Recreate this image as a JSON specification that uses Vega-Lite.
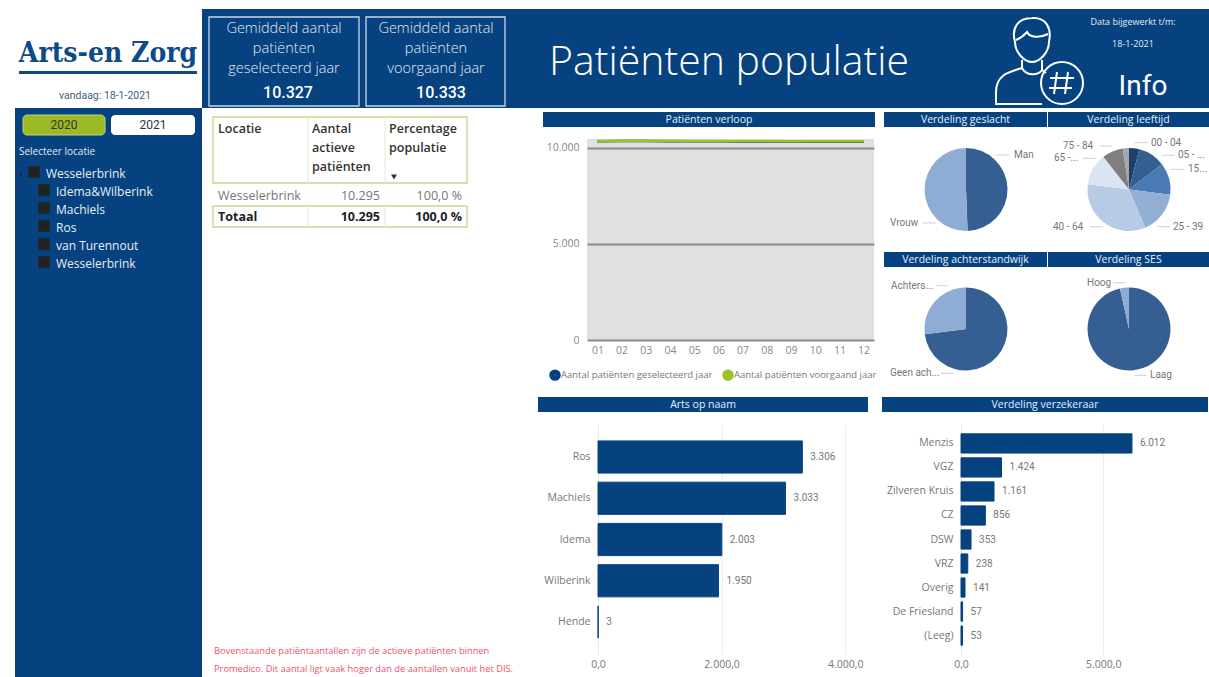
{"$schema":"https://vega.github.io/schema/vega-lite/v6.json","padding":{"left":15,"top":9,"right":0,"bottom":0},"background":"#ffffff","config":{"view":{"stroke":null},"concat":{"spacing":0},"font":"Open Sans","locale":{"number":{"decimal":",","thousands":".","grouping":[3],"currency":["€",""]}}},"spacing":0,"resolve":{"scale":{"color":"independent"}},"vconcat":[
{"spacing":0,"hconcat":[
{"width":187,"height":99,"resolve":{"scale":{"x":"independent","y":"independent"}},"layer":[
{"data":{"values":[{"t":"Arts-en Zorg"}]},"mark":{"type":"text","font":"DejaVu Serif Condensed","fontWeight":"bold","fontSize":28,"color":"#0d4a8a","align":"center"},"encoding":{"x":{"field":"t","type":"nominal","axis":null,"scale":{"range":[93,93],"padding":0}},"y":{"field":"t","type":"nominal","axis":null,"scale":{"range":[45,45],"padding":0}},"text":{"field":"t"}}},
{"data":{"values":[{"a":0,"b":1,"c":0,"d":1}]},"mark":{"type":"rect","fill":"#0d4a8a"},"encoding":{"x":{"field":"a","type":"quantitative","axis":null,"scale":{"domain":[0,1],"range":[4,182]}},"x2":{"field":"b"},"y":{"field":"c","type":"quantitative","axis":null,"scale":{"domain":[0,1],"range":[62,65]}},"y2":{"field":"d"}}},
{"data":{"values":[{"t":"vandaag: 18-1-2021"}]},"mark":{"type":"text","font":"Roboto","fontSize":10.5,"color":"#44607f"},"encoding":{"x":{"field":"t","type":"nominal","axis":null,"scale":{"range":[90,90],"padding":0}},"y":{"field":"t","type":"nominal","axis":null,"scale":{"range":[87,87],"padding":0}},"text":{"field":"t"}}}
]},
{"width":1007,"height":99,"view":{"fill":"#06427f","stroke":null},"resolve":{"scale":{"x":"independent","y":"independent"}},"layer":[
{"data":{"values":[{"a":0,"b":1,"c":0,"d":1}]},"mark":{"type":"rect","fill":null,"stroke":"#c9d6e6","strokeWidth":1.3},"encoding":{"x":{"field":"a","type":"quantitative","axis":null,"scale":{"domain":[0,1],"range":[7,157]}},"x2":{"field":"b"},"y":{"field":"c","type":"quantitative","axis":null,"scale":{"domain":[0,1],"range":[8,97]}},"y2":{"field":"d"}}},
{"data":{"values":[{"a":0,"b":1,"c":0,"d":1}]},"mark":{"type":"rect","fill":null,"stroke":"#c9d6e6","strokeWidth":1.3},"encoding":{"x":{"field":"a","type":"quantitative","axis":null,"scale":{"domain":[0,1],"range":[164,303]}},"x2":{"field":"b"},"y":{"field":"c","type":"quantitative","axis":null,"scale":{"domain":[0,1],"range":[8,97]}},"y2":{"field":"d"}}},
{"data":{"values":[{"c":"A","r":1,"t":"Gemiddeld aantal"},{"c":"A","r":2,"t":"patiënten"},{"c":"A","r":3,"t":"geselecteerd jaar"},{"c":"B","r":1,"t":"Gemiddeld aantal"},{"c":"B","r":2,"t":"patiënten"},{"c":"B","r":3,"t":"voorgaand jaar"}]},"mark":{"type":"text","fontSize":14.5,"fontWeight":300,"color":"#e4ebf3"},"encoding":{"x":{"field":"c","type":"nominal","axis":null,"scale":{"range":[82,234],"padding":0}},"y":{"field":"r","type":"ordinal","axis":null,"scale":{"range":[20,60],"padding":0}},"text":{"field":"t"}}},
{"data":{"values":[{"c":"A","t":"10.327"},{"c":"B","t":"10.333"}]},"mark":{"type":"text","font":"Roboto","fontSize":16,"fontWeight":500,"color":"#ffffff"},"encoding":{"x":{"field":"c","type":"nominal","axis":null,"scale":{"range":[86,239],"padding":0}},"y":{"field":"c","type":"nominal","axis":null,"scale":{"range":[84,84],"padding":0}},"text":{"field":"t"}}},
{"data":{"values":[{"t":"Patiënten populatie"}]},"mark":{"type":"text","align":"left","fontSize":41,"fontWeight":300,"color":"#ffffff"},"encoding":{"x":{"field":"t","type":"nominal","axis":null,"scale":{"range":[347,347],"padding":0}},"y":{"field":"t","type":"nominal","axis":null,"scale":{"range":[54,54],"padding":0}},"text":{"field":"t"}}},
{"data":{"values":[{"t":"icon"}]},"mark":{"type":"point","shape":"M-.545,-.432 C-.636,-.75 -.477,-.977 -.159,-.977 C.159,-1 .295,-.75 .227,-.432 C.227,-.205 .023,.023 -.159,.023 C-.341,.023 -.545,-.205 -.545,-.432 Z M-.523,-.477 C-.386,-.523 -.318,-.614 -.273,-.659 C-.205,-.523 .023,-.523 .205,-.614 M-.386,-.023 L-.386,.159 C-.659,.25 -.977,.295 -.977,.705 L-.977,.977 L.068,.977 M.068,-.023 L.068,.205 L.159,.273 M-.386,.159 C-.295,.341 -.023,.341 .068,.205 M1,.5 A.477,.477 0 1 1 .046,.5 A.477,.477 0 1 1 1,.5 Z M.409,.25 L.341,.75 M.659,.25 L.591,.75 M.25,.386 L.795,.386 M.227,.614 L.75,.614","size":7744,"filled":false,"stroke":"#ffffff","strokeWidth":2,"opacity":1},"encoding":{"x":{"field":"t","type":"nominal","axis":null,"scale":{"range":[837,837],"padding":0}},"y":{"field":"t","type":"nominal","axis":null,"scale":{"range":[52,52],"padding":0}}}},
{"data":{"values":[{"r":1,"t":"Data bijgewerkt t/m:"},{"r":2,"t":"18-1-2021"}]},"mark":{"type":"text","fontSize":9,"color":"#e4ebf3"},"encoding":{"x":{"datum":"a","type":"nominal","axis":null,"scale":{"range":[931,931],"padding":0}},"y":{"field":"r","type":"ordinal","axis":null,"scale":{"range":[13,35],"padding":0}},"text":{"field":"t"}}},
{"data":{"values":[{"t":"Info"}]},"mark":{"type":"text","font":"Roboto","fontSize":28,"fontWeight":400,"color":"#ffffff"},"encoding":{"x":{"field":"t","type":"nominal","axis":null,"scale":{"range":[941,941],"padding":0}},"y":{"field":"t","type":"nominal","axis":null,"scale":{"range":[78,78],"padding":0}},"text":{"field":"t"}}}
]}
]},
{"spacing":0,"resolve":{"scale":{"color":"independent"}},"hconcat":[
{"width":187,"height":569,"view":{"fill":"#06427f","stroke":null},"resolve":{"scale":{"x":"independent","y":"independent"}},"layer":[
{"data":{"values":[{"a":0,"b":1,"c":0,"d":1}]},"mark":{"type":"rect","cornerRadius":4,"fill":"#9bbb24","stroke":"#c3d18a"},"encoding":{"x":{"field":"a","type":"quantitative","axis":null,"scale":{"domain":[0,1],"range":[8,90]}},"x2":{"field":"b"},"y":{"field":"c","type":"quantitative","axis":null,"scale":{"domain":[0,1],"range":[7,27]}},"y2":{"field":"d"}}},
{"data":{"values":[{"a":0,"b":1,"c":0,"d":1}]},"mark":{"type":"rect","cornerRadius":4,"fill":"#ffffff"},"encoding":{"x":{"field":"a","type":"quantitative","axis":null,"scale":{"domain":[0,1],"range":[96,180]}},"x2":{"field":"b"},"y":{"field":"c","type":"quantitative","axis":null,"scale":{"domain":[0,1],"range":[7,27]}},"y2":{"field":"d"}}},
{"data":{"values":[{"t":"2020"},{"t":"2021"}]},"mark":{"type":"text","font":"Roboto","fontSize":12,"color":"#333333"},"encoding":{"x":{"field":"t","type":"nominal","axis":null,"scale":{"range":[49,138],"padding":0}},"y":{"datum":"a","type":"nominal","axis":null,"scale":{"range":[17,17],"padding":0}},"text":{"field":"t"}}},
{"data":{"values":[{"t":"Selecteer locatie"}]},"mark":{"type":"text","align":"left","fontSize":10,"color":"#e4ebf3"},"encoding":{"x":{"field":"t","type":"nominal","axis":null,"scale":{"range":[4,4],"padding":0}},"y":{"field":"t","type":"nominal","axis":null,"scale":{"range":[44,44],"padding":0}},"text":{"field":"t"}}},
{"data":{"values":[{"t":"▲"}]},"mark":{"type":"point","shape":"triangle-down","filled":true,"size":10,"color":"#223","opacity":1},"encoding":{"x":{"field":"t","type":"nominal","axis":null,"scale":{"range":[6,6],"padding":0}},"y":{"field":"t","type":"nominal","axis":null,"scale":{"range":[67,67],"padding":0}}}},
{"data":{"values":[{"i":"Wesselerbrink top","l":"0"},{"i":"Idema&Wilberink","l":"1"},{"i":"Machiels","l":"1"},{"i":"Ros","l":"1"},{"i":"van Turennout","l":"1"},{"i":"Wesselerbrink","l":"1"}]},"mark":{"type":"square","size":130,"color":"#222222","opacity":1},"encoding":{"x":{"field":"l","type":"nominal","axis":null,"scale":{"range":[19,29],"padding":0}},"y":{"field":"i","type":"nominal","sort":null,"axis":null,"scale":{"range":[64,154],"padding":0}}}},
{"data":{"values":[{"i":"Wesselerbrink top","l":"0","t":"Wesselerbrink"},{"i":"Idema&Wilberink","l":"1","t":"Idema&Wilberink"},{"i":"Machiels","l":"1","t":"Machiels"},{"i":"Ros","l":"1","t":"Ros"},{"i":"van Turennout","l":"1","t":"van Turennout"},{"i":"Wesselerbrink","l":"1","t":"Wesselerbrink"}]},"mark":{"type":"text","align":"left","fontSize":12,"color":"#e8eef5"},"encoding":{"x":{"field":"l","type":"nominal","axis":null,"scale":{"range":[31,41],"padding":0}},"y":{"field":"i","type":"nominal","sort":null,"axis":null,"scale":{"range":[66,156],"padding":0}},"text":{"field":"t"}}}
]},
{"width":336,"height":569,"resolve":{"scale":{"x":"independent","y":"independent"}},"layer":[
{"data":{"values":[{"a":0,"b":1,"c":0,"d":1}]},"mark":{"type":"rect","fill":null,"stroke":"#c8d88f","strokeWidth":1.4},"encoding":{"x":{"field":"a","type":"quantitative","axis":null,"scale":{"domain":[0,1],"range":[11,265]}},"x2":{"field":"b"},"y":{"field":"c","type":"quantitative","axis":null,"scale":{"domain":[0,1],"range":[9,75]}},"y2":{"field":"d"}}},
{"data":{"values":[{"a":0,"b":1,"c":0,"d":1}]},"mark":{"type":"rect","fill":null,"stroke":"#c8d88f","strokeWidth":1.4},"encoding":{"x":{"field":"a","type":"quantitative","axis":null,"scale":{"domain":[0,1],"range":[11,265]}},"x2":{"field":"b"},"y":{"field":"c","type":"quantitative","axis":null,"scale":{"domain":[0,1],"range":[98,119]}},"y2":{"field":"d"}}},
{"data":{"values":[{"c":"Aantal","a":0,"b":1},{"c":"Percentage","a":0,"b":1}]},"mark":{"type":"rule","color":"#e6eccd"},"encoding":{"x":{"field":"c","type":"nominal","axis":null,"scale":{"type":"point","range":[106,183],"padding":0}},"y":{"field":"a","type":"quantitative","axis":null,"scale":{"domain":[0,1],"range":[9,75]}},"y2":{"field":"b"}}},
{"data":{"values":[{"c":"Aantal","a":0,"b":1},{"c":"Percentage","a":0,"b":1}]},"mark":{"type":"rule","color":"#e6eccd"},"encoding":{"x":{"field":"c","type":"nominal","axis":null,"scale":{"type":"point","range":[106,183],"padding":0}},"y":{"field":"a","type":"quantitative","axis":null,"scale":{"domain":[0,1],"range":[98,119]}},"y2":{"field":"b"}}},
{"data":{"values":[{"t":"Locatie"}]},"mark":{"type":"text","align":"left","fontSize":12.5,"fontWeight":600,"color":"#333333"},"encoding":{"x":{"field":"t","type":"nominal","axis":null,"scale":{"range":[16,16],"padding":0}},"y":{"field":"t","type":"nominal","axis":null,"scale":{"range":[21,21],"padding":0}},"text":{"field":"t"}}},
{"data":{"values":[{"c":"A","r":1,"t":"Aantal"},{"c":"A","r":2,"t":"actieve"},{"c":"A","r":3,"t":"patiënten"},{"c":"P","r":1,"t":"Percentage"},{"c":"P","r":2,"t":"populatie"}]},"mark":{"type":"text","align":"left","fontSize":12.5,"fontWeight":600,"color":"#333333"},"encoding":{"x":{"field":"c","type":"nominal","axis":null,"scale":{"range":[110,187],"padding":0}},"y":{"field":"r","type":"ordinal","axis":null,"scale":{"domain":[1,2,3],"range":[21,59],"padding":0}},"text":{"field":"t"}}},
{"data":{"values":[{"t":"sort"}]},"mark":{"type":"point","shape":"triangle-down","filled":true,"size":35,"color":"#333333","opacity":1},"encoding":{"x":{"field":"t","type":"nominal","axis":null,"scale":{"range":[192,192],"padding":0}},"y":{"field":"t","type":"nominal","axis":null,"scale":{"range":[69,69],"padding":0}}}},
{"data":{"values":[{"t":"Wesselerbrink"}]},"mark":{"type":"text","align":"left","fontSize":12.5,"color":"#777777"},"encoding":{"x":{"field":"t","type":"nominal","axis":null,"scale":{"range":[16,16],"padding":0}},"y":{"field":"t","type":"nominal","axis":null,"scale":{"range":[88,88],"padding":0}},"text":{"field":"t"}}},
{"data":{"values":[{"c":"n","t":"10.295"},{"c":"p","t":"100,0 %"}]},"mark":{"type":"text","align":"right","fontSize":12.5,"color":"#777777"},"encoding":{"x":{"field":"c","type":"nominal","axis":null,"scale":{"range":[178,260],"padding":0}},"y":{"field":"c","type":"nominal","axis":null,"scale":{"range":[88,88],"padding":0}},"text":{"field":"t"}}},
{"data":{"values":[{"t":"Totaal"}]},"mark":{"type":"text","align":"left","fontSize":12.5,"fontWeight":700,"color":"#222222"},"encoding":{"x":{"field":"t","type":"nominal","axis":null,"scale":{"range":[16,16],"padding":0}},"y":{"field":"t","type":"nominal","axis":null,"scale":{"range":[109,109],"padding":0}},"text":{"field":"t"}}},
{"data":{"values":[{"c":"n","t":"10.295"},{"c":"p","t":"100,0 %"}]},"mark":{"type":"text","align":"right","fontSize":12.5,"fontWeight":700,"color":"#222222"},"encoding":{"x":{"field":"c","type":"nominal","axis":null,"scale":{"range":[178,260],"padding":0}},"y":{"field":"c","type":"nominal","axis":null,"scale":{"range":[109,109],"padding":0}},"text":{"field":"t"}}},
{"data":{"values":[{"t":"Bovenstaande patiëntaantallen zijn de actieve patiënten binnen"},{"t":"Promedico. Dit aantal ligt vaak hoger dan de aantallen vanuit het DIS."}]},"mark":{"type":"text","align":"left","fontSize":9.3,"color":"#f0506e"},"encoding":{"x":{"datum":"a","type":"nominal","axis":null,"scale":{"range":[12,12],"padding":0}},"y":{"field":"t","type":"nominal","sort":null,"axis":null,"scale":{"range":[543,561],"padding":0}},"text":{"field":"t"}}}
]},
{"spacing":0,"resolve":{"scale":{"color":"independent"}},"vconcat":[
{"spacing":0,"resolve":{"scale":{"color":"independent"}},"hconcat":[
{"width":5,"height":1,"data":{"values":[{"t":""}]},"mark":{"type":"text","fontSize":0},"encoding":{"text":{"field":"t"}}},
{"spacing":0,"resolve":{"scale":{"color":"independent"}},"vconcat":[
{"width":332,"height":4,"data":{"values":[{"t":""}]},"mark":{"type":"text","fontSize":0},"encoding":{"text":{"field":"t"}}},
{"width":332,"height":15,"view":{"fill":"#06427f","stroke":null},"data":{"values":[{"t":"Patiënten verloop"}]},"mark":{"type":"text","fontSize":10.5,"color":"#e8eef6"},"encoding":{"text":{"field":"t"}}},
{"width":332,"height":8,"data":{"values":[{"t":""}]},"mark":{"type":"text","fontSize":0},"encoding":{"text":{"field":"t"}}},
{"spacing":0,"resolve":{"scale":{"color":"independent"}},"hconcat":[
{"width":3,"height":1,"data":{"values":[{"t":""}]},"mark":{"type":"text","fontSize":0},"encoding":{"text":{"field":"t"}}},
{"width":287,"height":201,"view":{"fill":"#e0e0e0","stroke":null},"data":{"values":[
{"m":"01","s":"Aantal patiënten geselecteerd jaar","v":10330},{"m":"02","s":"Aantal patiënten geselecteerd jaar","v":10345},{"m":"03","s":"Aantal patiënten geselecteerd jaar","v":10340},{"m":"04","s":"Aantal patiënten geselecteerd jaar","v":10335},{"m":"05","s":"Aantal patiënten geselecteerd jaar","v":10330},{"m":"06","s":"Aantal patiënten geselecteerd jaar","v":10330},{"m":"07","s":"Aantal patiënten geselecteerd jaar","v":10325},{"m":"08","s":"Aantal patiënten geselecteerd jaar","v":10320},{"m":"09","s":"Aantal patiënten geselecteerd jaar","v":10315},{"m":"10","s":"Aantal patiënten geselecteerd jaar","v":10310},{"m":"11","s":"Aantal patiënten geselecteerd jaar","v":10310},{"m":"12","s":"Aantal patiënten geselecteerd jaar","v":10305},
{"m":"01","s":"Aantal patiënten voorgaand jaar","v":10345},{"m":"02","s":"Aantal patiënten voorgaand jaar","v":10365},{"m":"03","s":"Aantal patiënten voorgaand jaar","v":10360},{"m":"04","s":"Aantal patiënten voorgaand jaar","v":10355},{"m":"05","s":"Aantal patiënten voorgaand jaar","v":10350},{"m":"06","s":"Aantal patiënten voorgaand jaar","v":10345},{"m":"07","s":"Aantal patiënten voorgaand jaar","v":10345},{"m":"08","s":"Aantal patiënten voorgaand jaar","v":10340},{"m":"09","s":"Aantal patiënten voorgaand jaar","v":10335},{"m":"10","s":"Aantal patiënten voorgaand jaar","v":10330},{"m":"11","s":"Aantal patiënten voorgaand jaar","v":10330},{"m":"12","s":"Aantal patiënten voorgaand jaar","v":10335}]},"mark":{"type":"line","strokeWidth":2.5},"encoding":{"x":{"field":"m","type":"ordinal","title":null,"scale":{"type":"point","padding":0.43},"axis":{"labelAngle":0,"domain":false,"ticks":false,"grid":false,"labelColor":"#888888","labelFontSize":10.5,"labelPadding":5}},"y":{"field":"v","type":"quantitative","title":null,"scale":{"domain":[0,10450],"nice":false},"axis":{"values":[0,5000,10000],"format":",d","domain":false,"ticks":false,"grid":true,"gridColor":"#8a8a8a","gridWidth":2,"gridOpacity":1,"labelColor":"#888888","labelFontSize":10.5,"labelPadding":8}},"color":{"field":"s","type":"nominal","scale":{"range":["#06427f","#9bc125"]},"legend":{"orient":"none","legendX":-38,"legendY":230,"direction":"horizontal","title":null,"symbolType":"circle","symbolSize":30,"symbolStrokeWidth":6,"symbolOpacity":1,"labelFontSize":9.5,"labelColor":"#777777","labelLimit":300,"columnPadding":0,"labelOffset":0,"padding":0}}}}
]}
]},
{"width":7,"height":1,"data":{"values":[{"t":""}]},"mark":{"type":"text","fontSize":0},"encoding":{"text":{"field":"t"}}},
{"spacing":0,"resolve":{"scale":{"color":"independent"}},"vconcat":[
{"width":325,"height":4,"data":{"values":[{"t":""}]},"mark":{"type":"text","fontSize":0},"encoding":{"text":{"field":"t"}}},
{"spacing":0,"hconcat":[
{"width":163,"height":15,"view":{"fill":"#06427f","stroke":null},"data":{"values":[{"t":"Verdeling geslacht"}]},"mark":{"type":"text","fontSize":10.5,"color":"#e8eef6"},"encoding":{"text":{"field":"t"}}},
{"width":1,"height":15,"data":{"values":[{"t":""}]},"mark":{"type":"text","fontSize":0},"encoding":{"text":{"field":"t"}}},
{"width":161,"height":15,"view":{"fill":"#06427f","stroke":null},"data":{"values":[{"t":"Verdeling leeftijd"}]},"mark":{"type":"text","fontSize":10.5,"color":"#e8eef6"},"encoding":{"text":{"field":"t"}}}
]},
{"spacing":0,"resolve":{"scale":{"color":"independent"}},"hconcat":[
{"width":164,"height":125,"resolve":{"scale":{"x":"independent","y":"independent"}},"layer":[
{"data":{"values":[{"k":"Man","o":1,"p":49.4},{"k":"Vrouw","o":2,"p":50.6}]},"mark":{"type":"arc","outerRadius":41.5},"encoding":{"theta":{"field":"p","type":"quantitative","stack":true},"order":{"field":"o"},"color":{"field":"k","type":"nominal","legend":null,"scale":{"domain":["Man","Vrouw"],"range":["#355f92","#8fadd4"]}}}},
{"data":{"values":[{"t":"Man"},{"t":"Vrouw"}]},"mark":{"type":"text","align":"left","font":"Roboto","fontSize":10,"color":"#777777"},"encoding":{"x":{"field":"t","type":"nominal","axis":null,"scale":{"domain":["Man","Vrouw"],"range":[130,6],"padding":0}},"y":{"field":"t","type":"nominal","axis":null,"scale":{"domain":["Man","Vrouw"],"range":[28,96],"padding":0}},"text":{"field":"t"}}},
{"data":{"values":[{"t":"Man"},{"t":"Vrouw"}]},"mark":{"type":"tick","orient":"horizontal","size":13,"thickness":1,"color":"#bbbbbb"},"encoding":{"x":{"field":"t","type":"nominal","axis":null,"scale":{"type":"point","domain":["Man","Vrouw"],"range":[118.5,45],"padding":0}},"y":{"field":"t","type":"nominal","axis":null,"scale":{"type":"point","domain":["Man","Vrouw"],"range":[28,96],"padding":0}}}}
]},
{"width":1,"height":125,"data":{"values":[{"t":""}]},"mark":{"type":"text","fontSize":0},"encoding":{"text":{"field":"t"}}},
{"width":160,"height":125,"resolve":{"scale":{"x":"independent","y":"independent"}},"layer":[
{"data":{"values":[{"k":"00 - 04","p":4},{"k":"05 - 14","p":10.7},{"k":"15 - 24","p":12.3},{"k":"25 - 39","p":16.6},{"k":"40 - 64","p":33.4},{"k":"65 - 74","p":12.4},{"k":"75 - 84","p":8.2},{"k":"85+","p":2.4}]},"mark":{"type":"arc","outerRadius":41.5},"encoding":{"theta":{"field":"p","type":"quantitative","stack":true},"order":{"field":"k"},"color":{"field":"k","type":"nominal","legend":null,"scale":{"range":["#1f3f6a","#355f92","#4a7ab5","#93afd6","#b7cbe4","#dbe5f1","#7f7f7f","#a6a6a6"]}}}},
{"data":{"values":[{"t":"00 - 04"},{"t":"75 - 84"}]},"mark":{"type":"text","align":"left","font":"Roboto","fontSize":10,"color":"#777777"},"encoding":{"x":{"field":"t","type":"nominal","axis":null,"scale":{"domain":["00 - 04","75 - 84"],"range":[102,14],"padding":0}},"y":{"field":"t","type":"nominal","axis":null,"scale":{"domain":["00 - 04","75 - 84"],"range":[15.7,19],"padding":0}},"text":{"field":"t"}}},
{"data":{"values":[{"t":"00 - 04"},{"t":"75 - 84"}]},"mark":{"type":"tick","orient":"horizontal","size":13,"thickness":1,"color":"#bbbbbb"},"encoding":{"x":{"field":"t","type":"nominal","axis":null,"scale":{"type":"point","domain":["00 - 04","75 - 84"],"range":[92,57],"padding":0}},"y":{"field":"t","type":"nominal","axis":null,"scale":{"type":"point","domain":["00 - 04","75 - 84"],"range":[15.7,19],"padding":0}}}},
{"data":{"values":[{"t":"05 - ..."},{"t":"65 -..."}]},"mark":{"type":"text","align":"left","font":"Roboto","fontSize":10,"color":"#777777"},"encoding":{"x":{"field":"t","type":"nominal","axis":null,"scale":{"domain":["05 - ...","65 -..."],"range":[129,5],"padding":0}},"y":{"field":"t","type":"nominal","axis":null,"scale":{"domain":["05 - ...","65 -..."],"range":[28.3,31.3],"padding":0}},"text":{"field":"t"}}},
{"data":{"values":[{"t":"05 - ..."},{"t":"65 -..."}]},"mark":{"type":"tick","orient":"horizontal","size":13,"thickness":1,"color":"#bbbbbb"},"encoding":{"x":{"field":"t","type":"nominal","axis":null,"scale":{"type":"point","domain":["05 - ...","65 -..."],"range":[119.5,40.5],"padding":0}},"y":{"field":"t","type":"nominal","axis":null,"scale":{"type":"point","domain":["05 - ...","65 -..."],"range":[28.3,31.3],"padding":0}}}},
{"data":{"values":[{"t":"15..."}]},"mark":{"type":"text","align":"left","font":"Roboto","fontSize":10,"color":"#777777"},"encoding":{"x":{"field":"t","type":"nominal","axis":null,"scale":{"range":[139,139],"padding":0}},"y":{"field":"t","type":"nominal","axis":null,"scale":{"range":[42.3,42.3],"padding":0}},"text":{"field":"t"}}},
{"data":{"values":[{"t":"15..."}]},"mark":{"type":"tick","orient":"horizontal","size":14,"thickness":1,"color":"#bbbbbb"},"encoding":{"x":{"field":"t","type":"nominal","axis":null,"scale":{"type":"point","range":[128.5,128.5],"padding":0}},"y":{"field":"t","type":"nominal","axis":null,"scale":{"type":"point","range":[42.3,42.3],"padding":0}}}},
{"data":{"values":[{"t":"25 - 39"},{"t":"40 - 64"}]},"mark":{"type":"text","align":"left","font":"Roboto","fontSize":10,"color":"#777777"},"encoding":{"x":{"field":"t","type":"nominal","axis":null,"scale":{"domain":["25 - 39","40 - 64"],"range":[124,4],"padding":0}},"y":{"datum":"a","type":"nominal","axis":null,"scale":{"range":[99.7,99.7],"padding":0}},"text":{"field":"t"}}},
{"data":{"values":[{"t":"25 - 39"},{"t":"40 - 64"}]},"mark":{"type":"tick","orient":"horizontal","size":13,"thickness":1,"color":"#bbbbbb"},"encoding":{"x":{"field":"t","type":"nominal","axis":null,"scale":{"type":"point","domain":["25 - 39","40 - 64"],"range":[114.5,47.5],"padding":0}},"y":{"datum":"a","type":"nominal","axis":null,"scale":{"type":"point","range":[99.7,99.7],"padding":0}}}}
]}
]},
{"spacing":0,"hconcat":[
{"width":163,"height":15,"view":{"fill":"#06427f","stroke":null},"data":{"values":[{"t":"Verdeling achterstandwijk"}]},"mark":{"type":"text","fontSize":10.5,"color":"#e8eef6"},"encoding":{"text":{"field":"t"}}},
{"width":1,"height":15,"data":{"values":[{"t":""}]},"mark":{"type":"text","fontSize":0},"encoding":{"text":{"field":"t"}}},
{"width":161,"height":15,"view":{"fill":"#06427f","stroke":null},"data":{"values":[{"t":"Verdeling SES"}]},"mark":{"type":"text","fontSize":10.5,"color":"#e8eef6"},"encoding":{"text":{"field":"t"}}}
]},
{"spacing":0,"resolve":{"scale":{"color":"independent"}},"hconcat":[
{"width":164,"height":124,"resolve":{"scale":{"x":"independent","y":"independent"}},"layer":[
{"data":{"values":[{"k":"Geen ach...","o":1,"p":73},{"k":"Achters...","o":2,"p":27}]},"mark":{"type":"arc","outerRadius":41.5},"encoding":{"theta":{"field":"p","type":"quantitative","stack":true},"order":{"field":"o"},"color":{"field":"k","type":"nominal","legend":null,"scale":{"domain":["Geen ach...","Achters..."],"range":["#355f92","#8fadd4"]}}}},
{"data":{"values":[{"t":"Achters..."},{"t":"Geen ach..."}]},"mark":{"type":"text","align":"left","font":"Roboto","fontSize":10,"color":"#777777"},"encoding":{"x":{"field":"t","type":"nominal","axis":null,"scale":{"domain":["Achters...","Geen ach..."],"range":[7,6],"padding":0}},"y":{"field":"t","type":"nominal","axis":null,"scale":{"domain":["Achters...","Geen ach..."],"range":[18.7,106.3],"padding":0}},"text":{"field":"t"}}},
{"data":{"values":[{"t":"Achters..."},{"t":"Geen ach..."}]},"mark":{"type":"tick","orient":"horizontal","size":12,"thickness":1,"color":"#bbbbbb"},"encoding":{"x":{"field":"t","type":"nominal","axis":null,"scale":{"type":"point","domain":["Achters...","Geen ach..."],"range":[57.5,63],"padding":0}},"y":{"field":"t","type":"nominal","axis":null,"scale":{"type":"point","domain":["Achters...","Geen ach..."],"range":[18.7,106.3],"padding":0}}}}
]},
{"width":1,"height":124,"data":{"values":[{"t":""}]},"mark":{"type":"text","fontSize":0},"encoding":{"text":{"field":"t"}}},
{"width":160,"height":124,"resolve":{"scale":{"x":"independent","y":"independent"}},"layer":[
{"data":{"values":[{"k":"Laag","o":1,"p":96.5},{"k":"Hoog","o":2,"p":3.5}]},"mark":{"type":"arc","outerRadius":41.5},"encoding":{"theta":{"field":"p","type":"quantitative","stack":true},"order":{"field":"o"},"color":{"field":"k","type":"nominal","legend":null,"scale":{"domain":["Laag","Hoog"],"range":["#355f92","#8fadd4"]}}}},
{"data":{"values":[{"t":"Hoog"},{"t":"Laag"}]},"mark":{"type":"text","align":"left","font":"Roboto","fontSize":10,"color":"#777777"},"encoding":{"x":{"field":"t","type":"nominal","axis":null,"scale":{"domain":["Hoog","Laag"],"range":[38,101],"padding":0}},"y":{"field":"t","type":"nominal","axis":null,"scale":{"domain":["Hoog","Laag"],"range":[15.7,108.3],"padding":0}},"text":{"field":"t"}}},
{"data":{"values":[{"t":"Hoog"},{"t":"Laag"}]},"mark":{"type":"tick","orient":"horizontal","size":12,"thickness":1,"color":"#bbbbbb"},"encoding":{"x":{"field":"t","type":"nominal","axis":null,"scale":{"type":"point","domain":["Hoog","Laag"],"range":[70,91.5],"padding":0}},"y":{"field":"t","type":"nominal","axis":null,"scale":{"type":"point","domain":["Hoog","Laag"],"range":[15.7,108.3],"padding":0}}}}
]}
]},
{"width":325,"height":6,"data":{"values":[{"t":""}]},"mark":{"type":"text","fontSize":0},"encoding":{"text":{"field":"t"}}}
]}
]},
{"spacing":0,"hconcat":[
{"spacing":0,"vconcat":[
{"width":330,"height":15,"view":{"fill":"#06427f","stroke":null},"data":{"values":[{"t":"Arts op naam"}]},"mark":{"type":"text","fontSize":10.5,"color":"#e8eef6"},"encoding":{"text":{"field":"t"}}},
{"width":330,"height":12,"data":{"values":[{"t":""}]},"mark":{"type":"text","fontSize":0},"encoding":{"text":{"field":"t"}}},
{"spacing":0,"hconcat":[
{"width":5,"height":1,"data":{"values":[{"t":""}]},"mark":{"type":"text","fontSize":0},"encoding":{"text":{"field":"t"}}},
{"width":268,"height":231,"data":{"values":[{"a":"Ros","v":3306},{"a":"Machiels","v":3033},{"a":"Idema","v":2003},{"a":"Wilberink","v":1950},{"a":"Hende","v":3}]},"encoding":{"y":{"field":"a","type":"nominal","sort":null,"title":null,"scale":{"paddingInner":0.22,"paddingOuter":0.41},"axis":{"domain":false,"ticks":false,"labelColor":"#777777","labelFontSize":10.5,"labelPadding":8,"labelLimit":200}},"x":{"field":"v","type":"quantitative","title":null,"scale":{"domain":[0,4336],"nice":false},"axis":{"values":[0,2000,4000],"format":",.1f","domain":false,"ticks":false,"grid":true,"gridColor":"#ececec","labelColor":"#777777","labelFontSize":10.5,"labelPadding":4,"labelFlush":false}}},"layer":[{"mark":{"type":"bar","color":"#06427f","stroke":"#06427f","strokeWidth":1}},{"mark":{"type":"text","align":"left","dx":8,"font":"Roboto","fontSize":10,"color":"#777777"},"encoding":{"text":{"field":"v","type":"quantitative","format":",d"}}}]}
]}
]},
{"width":14,"height":1,"data":{"values":[{"t":""}]},"mark":{"type":"text","fontSize":0},"encoding":{"text":{"field":"t"}}},
{"spacing":0,"vconcat":[
{"width":326,"height":15,"view":{"fill":"#06427f","stroke":null},"data":{"values":[{"t":"Verdeling verzekeraar"}]},"mark":{"type":"text","fontSize":10.5,"color":"#e8eef6"},"encoding":{"text":{"field":"t"}}},
{"width":326,"height":12,"data":{"values":[{"t":""}]},"mark":{"type":"text","fontSize":0},"encoding":{"text":{"field":"t"}}},
{"spacing":0,"hconcat":[
{"width":4,"height":1,"data":{"values":[{"t":""}]},"mark":{"type":"text","fontSize":0},"encoding":{"text":{"field":"t"}}},
{"width":247,"height":231,"data":{"values":[{"a":"Menzis","v":6012},{"a":"VGZ","v":1424},{"a":"Zilveren Kruis","v":1161},{"a":"CZ","v":856},{"a":"DSW","v":353},{"a":"VRZ","v":238},{"a":"Overig","v":141},{"a":"De Friesland","v":57},{"a":"(Leeg)","v":53}]},"encoding":{"y":{"field":"a","type":"nominal","sort":null,"title":null,"scale":{"paddingInner":0.2,"paddingOuter":0.41},"axis":{"domain":false,"ticks":false,"labelColor":"#777777","labelFontSize":10.5,"labelPadding":8,"labelLimit":200}},"x":{"field":"v","type":"quantitative","title":null,"scale":{"domain":[0,8685],"nice":false},"axis":{"values":[0,5000],"format":",.1f","domain":false,"ticks":false,"grid":true,"gridColor":"#ececec","labelColor":"#777777","labelFontSize":10.5,"labelPadding":4,"labelFlush":false}}},"layer":[{"mark":{"type":"bar","color":"#06427f","stroke":"#06427f","strokeWidth":1}},{"mark":{"type":"text","align":"left","dx":8,"font":"Roboto","fontSize":10,"color":"#777777"},"encoding":{"text":{"field":"v","type":"quantitative","format":",d"}}}]}
]}
]}
]}
]}
]}
]}
